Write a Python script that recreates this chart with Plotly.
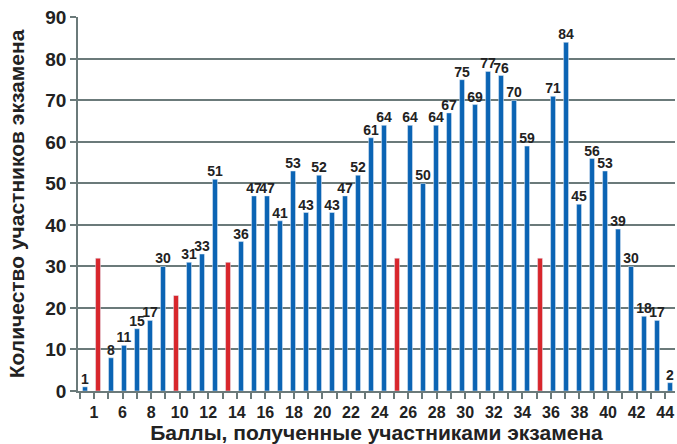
import plotly.graph_objects as go

# Heights of all 46 bars in drawing order
counts = [1, 32, 8, 11, 15, 17, 30, 23, 31, 33,
          51, 31, 36, 47, 47, 41, 53, 43, 52, 43,
          47, 52, 61, 64, 32, 64, 50, 64, 67, 75,
          69, 77, 76, 70, 59, 32, 71, 84, 45, 56,
          53, 39, 30, 18, 17, 2]
# Bars drawn in red (no value label)
red_idx = [1, 7, 11, 24, 35]
# Axis tick labels as printed under the chart
tick_labels = ["1"] + [str(v) for v in range(6, 45, 2)]
y_ticks = list(range(0, 91, 10))

BLUE = "#0b64b4"
RED = "#d8262c"
GRID = "#6b7a7a"
TXT = "#222222"
FONT = "Liberation Sans"

pos = list(range(len(counts)))
blue_x = [i for i in pos if i not in red_idx]
blue_y = [counts[i] for i in blue_x]
red_x = [i for i in pos if i in red_idx]
red_y = [counts[i] for i in red_x]

fig = go.Figure()
fig.add_trace(go.Bar(
    x=blue_x, y=blue_y, marker_color=BLUE, width=0.38,
    text=[str(v) for v in blue_y], textposition="outside",
    constraintext="none", cliponaxis=False,
    textfont=dict(family=FONT, size=14, color=TXT, weight="bold"),
    showlegend=False,
))
fig.add_trace(go.Bar(
    x=red_x, y=red_y, marker_color=RED, width=0.38, showlegend=False,
))
# invisible trace so the tick axis is active
fig.add_trace(go.Scatter(x=[0], y=[0], xaxis="x2", mode="markers",
                         marker=dict(opacity=0), showlegend=False,
                         hoverinfo="skip"))

fig.update_layout(
    width=677, height=444,
    margin=dict(l=78, r=2, t=17, b=53, autoexpand=False),
    paper_bgcolor="white", plot_bgcolor="white",
    barmode="overlay",
    font=dict(family=FONT, color=TXT),
    xaxis=dict(range=[-0.54, 45.38], showgrid=False, zeroline=False,
               showticklabels=False, ticks="", showline=False),
    xaxis2=dict(
        overlaying="x", anchor="y", side="bottom",
        range=[-0.12, 41.69],
        tickvals=[1 + 2 * i for i in range(len(tick_labels))],
        ticktext=tick_labels,
        ticks="outside", ticklen=6, tickwidth=1.5, tickcolor=GRID,
        minor=dict(dtick=1, tick0=0, ticks="outside", ticklen=6,
                   tickwidth=1.5, tickcolor=GRID, showgrid=False),
        showline=True, linecolor=GRID, linewidth=1.5,
        showgrid=False, zeroline=False, automargin=False,
        tickfont=dict(family=FONT, size=16, color=TXT, weight="bold"),
        title=dict(text="Баллы, полученные участниками экзамена",
                   font=dict(family=FONT, size=21, color=TXT, weight="bold"),
                   standoff=3),
    ),
    yaxis=dict(
        range=[0, 90.1], tickvals=y_ticks,
        showgrid=True, gridcolor=GRID, gridwidth=1.6,
        zeroline=False, automargin=False,
        showline=True, linecolor=GRID, linewidth=1.5,
        ticks="outside", ticklen=6, tickwidth=1.5, tickcolor=GRID,
        tickfont=dict(family=FONT, size=19, color=TXT, weight="bold"),
        title=dict(text="Количество участников экзамена",
                   font=dict(family=FONT, size=21, color=TXT, weight="bold"),
                   standoff=15),
    ),
)

fig.write_html("out.html", config={"displayModeBar": False},
               post_script="document.body.style.margin='0';")
